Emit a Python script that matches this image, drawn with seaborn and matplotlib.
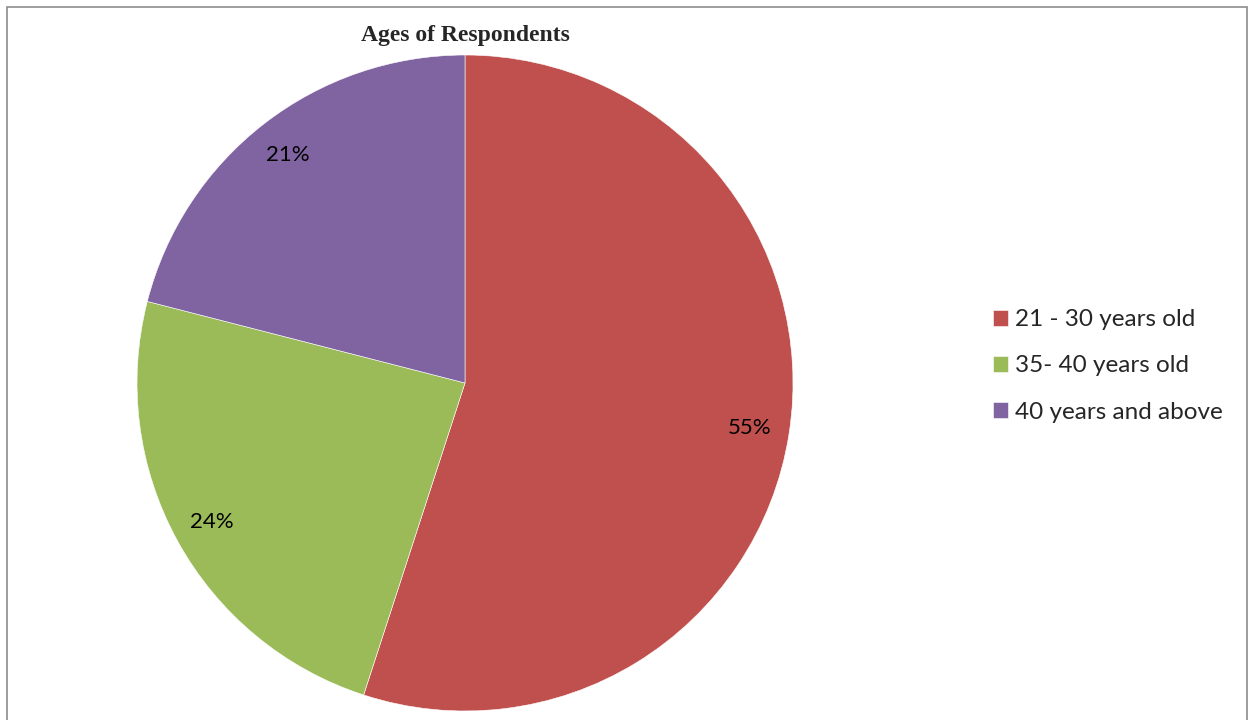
import matplotlib
matplotlib.use("Agg")
import matplotlib.pyplot as plt
import seaborn as sns
from matplotlib.patches import Rectangle

categories = ["21 - 30 years old", "35- 40 years old", "40 years and above"]
values = [55, 24, 21]
colors = ["#C0504D", "#9BBB59", "#8064A2"]

sns.set_style("white")
plt.rcParams["font.family"] = ["Lato", "DejaVu Sans"]

W, H = 1249, 720
fig = plt.figure(figsize=(W / 100, H / 100), dpi=100)
palette = sns.color_palette(colors)

cx, cy, R = 465, 383, 328
ax = fig.add_axes([(cx - R) / W, (H - cy - R) / H, 2 * R / W, 2 * R / H])
wedges, texts, autotexts = ax.pie(
    values, colors=palette, startangle=90, counterclock=False,
    autopct="%1.0f%%", pctdistance=0.88, radius=1,
    wedgeprops=dict(linewidth=0.4, edgecolor="white"),
    textprops=dict(fontsize=16, color="black"))
ax.set_xlim(-1, 1)
ax.set_ylim(-1, 1)
ax.set_aspect("equal")
ax.axis("off")

fig.text(cx / W, 1 - 36 / H, "Ages of Respondents", ha="center", va="center",
         fontsize=17, fontweight="bold", family=["Liberation Serif"])

leg = fig.legend(wedges, categories, loc="center left",
                 bbox_to_anchor=(993 / W, 1 - 366 / H), frameon=False,
                 fontsize=17.5, handlelength=0.62, handleheight=0.62,
                 handletextpad=0.3, labelspacing=1.03,
                 borderpad=0, borderaxespad=0)

fig.patches.append(Rectangle((7 / W, -0.05), 1240 / W, 1.05 - 7 / H,
                             transform=fig.transFigure, fill=False,
                             edgecolor="#8c8c8c", linewidth=1.2))

fig.savefig("out.png", dpi=100)
